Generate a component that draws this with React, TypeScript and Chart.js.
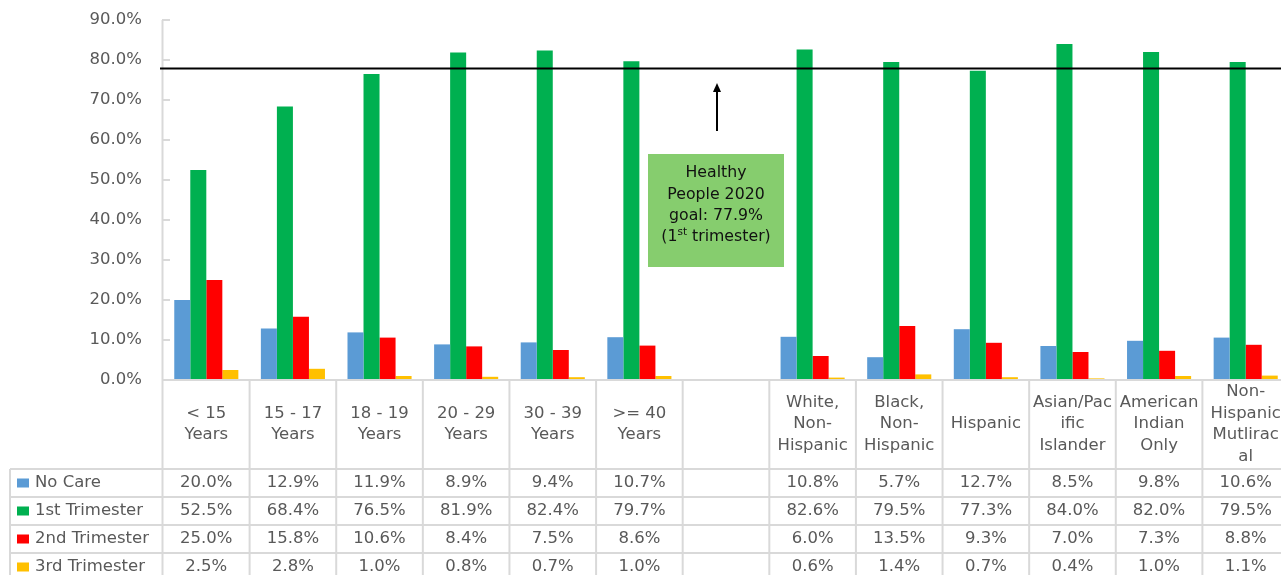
import React, { useEffect, useRef } from 'react';
import { Chart, registerables } from 'chart.js';

Chart.register(...registerables);

// ---------------- data ----------------
const categories: string[][] = [
  ['< 15', 'Years'],
  ['15 - 17', 'Years'],
  ['18 - 19', 'Years'],
  ['20 - 29', 'Years'],
  ['30 - 39', 'Years'],
  ['>= 40', 'Years'],
  [''],
  ['White,', 'Non-', 'Hispanic'],
  ['Black,', 'Non-', 'Hispanic'],
  ['Hispanic'],
  ['Asian/Pac', 'ific', 'Islander'],
  ['American', 'Indian', 'Only'],
  ['Non-', 'Hispanic', 'Mutlirac', 'al'],
];
const noCare = [20.0, 12.9, 11.9, 8.9, 9.4, 10.7, null, 10.8, 5.7, 12.7, 8.5, 9.8, 10.6];
const firstTrimester = [52.5, 68.4, 76.5, 81.9, 82.4, 79.7, null, 82.6, 79.5, 77.3, 84.0, 82.0, 79.5];
const secondTrimester = [25.0, 15.8, 10.6, 8.4, 7.5, 8.6, null, 6.0, 13.5, 9.3, 7.0, 7.3, 8.8];
const thirdTrimester = [2.5, 2.8, 1.0, 0.8, 0.7, 1.0, null, 0.6, 1.4, 0.7, 0.4, 1.0, 1.1];
const seriesNames = ['No Care', '1st Trimester', '2nd Trimester', '3rd Trimester'];
const seriesColors = ['#5B9BD5', '#00B050', '#FF0000', '#FFC000'];
const yTickValues = [0, 10, 20, 30, 40, 50, 60, 70, 80, 90];
const goalValue = 77.9;
const goalLines = ['Healthy', 'People 2020', 'goal: 77.9%'];

// ---------------- style ----------------
const FONT_FAMILY = '"DejaVu Sans", Verdana, sans-serif';
const TEXT_GRAY = '#595959';
const GRID_GRAY = '#d9d9d9';
const SX = 1.1;

function stretchText(
  ctx: CanvasRenderingContext2D,
  text: string,
  x: number,
  y: number,
  align: CanvasTextAlign,
  sx = SX
) {
  ctx.save();
  ctx.translate(x, y);
  ctx.scale(sx, 1);
  ctx.textAlign = align;
  ctx.textBaseline = 'middle';
  ctx.fillText(text, 0, 0);
  ctx.restore();
}

const customDraw = {
  id: 'customDraw',
  afterDatasetsDraw(chart: any) {
    const ctx: CanvasRenderingContext2D = chart.ctx;
    const xs = chart.scales.x;
    const ys = chart.scales.y;
    const area = chart.chartArea;
    const n = categories.length;
    const catW = (area.right - area.left) / n;

    ctx.save();

    // ---- y axis line, inside tick marks, labels ----
    ctx.strokeStyle = GRID_GRAY;
    ctx.lineWidth = 2;
    ctx.beginPath();
    ctx.moveTo(area.left - 0.5, area.top);
    ctx.lineTo(area.left - 0.5, 575);
    ctx.stroke();
    ctx.font = `15px ${FONT_FAMILY}`;
    ctx.fillStyle = TEXT_GRAY;
    yTickValues.forEach((v) => {
      const py = ys.getPixelForValue(v);
      ctx.beginPath();
      ctx.moveTo(area.left - 1, py);
      ctx.lineTo(area.left + 7, py);
      ctx.stroke();
      stretchText(ctx, v.toFixed(1) + '%', area.left - 21, py, 'right');
    });

    // ---- x axis line (table top) ----
    ctx.beginPath();
    ctx.moveTo(area.left - 1, area.bottom);
    ctx.lineTo(area.right, area.bottom);
    ctx.stroke();

    // ---- data table ----
    const headerBottom = 469;
    const rowH = 28;
    const rowTops = [0, 1, 2, 3, 4].map((i) => headerBottom + i * rowH);
    const tableLeft = 10;

    // horizontal lines
    rowTops.forEach((ty) => {
      ctx.beginPath();
      ctx.moveTo(tableLeft, ty);
      ctx.lineTo(area.right, ty);
      ctx.stroke();
    });
    // left border
    ctx.beginPath();
    ctx.moveTo(tableLeft, headerBottom);
    ctx.lineTo(tableLeft, 580);
    ctx.stroke();
    // vertical lines at category boundaries
    for (let i = 1; i <= n; i++) {
      const bx = xs.getPixelForValue(i - 1) + catW / 2;
      ctx.beginPath();
      ctx.moveTo(bx, area.bottom);
      ctx.lineTo(bx, 580);
      ctx.stroke();
    }

    // header labels
    ctx.fillStyle = TEXT_GRAY;
    ctx.font = `15px ${FONT_FAMILY}`;
    const headerMid = (area.bottom + headerBottom) / 2;
    const lh = 21.5;
    categories.forEach((lines, i) => {
      const cx = xs.getPixelForValue(i);
      const start = headerMid - ((lines.length - 1) * lh) / 2;
      lines.forEach((t, j) => stretchText(ctx, t, cx, start + j * lh, 'center'));
    });

    // rows
    const series = [noCare, firstTrimester, secondTrimester, thirdTrimester];
    series.forEach((vals, r) => {
      const cy = rowTops[r] + rowH / 2;
      ctx.fillStyle = seriesColors[r];
      ctx.fillRect(17, cy - 4.5, 12, 9);
      ctx.fillStyle = TEXT_GRAY;
      stretchText(ctx, seriesNames[r], 35, cy, 'left');
      vals.forEach((v, i) => {
        if (v === null || v === undefined) return;
        stretchText(ctx, (v as number).toFixed(1) + '%', xs.getPixelForValue(i), cy, 'center');
      });
    });

    // ---- goal line ----
    const gy = ys.getPixelForValue(goalValue);
    ctx.strokeStyle = '#000000';
    ctx.lineWidth = 2;
    ctx.beginPath();
    ctx.moveTo(area.left - 3, gy);
    ctx.lineTo(area.right, gy);
    ctx.stroke();

    // ---- arrow ----
    const ax = 717;
    ctx.beginPath();
    ctx.moveTo(ax, 131);
    ctx.lineTo(ax, 90);
    ctx.stroke();
    ctx.fillStyle = '#000000';
    ctx.beginPath();
    ctx.moveTo(ax, 83);
    ctx.lineTo(ax - 4, 92);
    ctx.lineTo(ax + 4, 92);
    ctx.closePath();
    ctx.fill();

    // ---- annotation box ----
    const bx0 = 648;
    const by0 = 154;
    const bw = 136;
    const bh = 113;
    ctx.fillStyle = '#86CD6E';
    ctx.fillRect(bx0, by0, bw, bh);
    const bcx = bx0 + bw / 2;
    ctx.fillStyle = '#111111';
    ctx.font = `15px ${FONT_FAMILY}`;
    const bsx = 1.05;
    const lineYs = [173.5, 195, 216, 237];
    goalLines.forEach((t, i) => stretchText(ctx, t, bcx, lineYs[i], 'center', bsx));
    // last line with superscript
    const p1 = '(1';
    const sup = 'st';
    const p2 = ' trimester)';
    ctx.font = `15px ${FONT_FAMILY}`;
    const w1 = ctx.measureText(p1).width * bsx;
    const w3 = ctx.measureText(p2).width * bsx;
    ctx.font = `10px ${FONT_FAMILY}`;
    const w2 = ctx.measureText(sup).width * bsx;
    let tx = bcx - (w1 + w2 + w3) / 2;
    const ly = lineYs[3];
    ctx.font = `15px ${FONT_FAMILY}`;
    stretchText(ctx, p1, tx, ly, 'left', bsx);
    tx += w1;
    ctx.font = `10px ${FONT_FAMILY}`;
    stretchText(ctx, sup, tx, ly - 5, 'left', bsx);
    tx += w2;
    ctx.font = `15px ${FONT_FAMILY}`;
    stretchText(ctx, p2, tx, ly, 'left', bsx);

    ctx.restore();
  },
};

export default function App() {
  const canvasRef = useRef<HTMLCanvasElement | null>(null);

  useEffect(() => {
    const canvas = canvasRef.current;
    if (!canvas) return;
    const series = [noCare, firstTrimester, secondTrimester, thirdTrimester];
    const chart = new Chart(canvas, {
      type: 'bar',
      data: {
        labels: categories.map((c) => c.join(' ')),
        datasets: series.map((vals, i) => ({
          label: seriesNames[i],
          data: vals as any,
          backgroundColor: seriesColors[i],
          borderWidth: 0,
          categoryPercentage: 0.74,
          barPercentage: 1,
        })),
      },
      options: {
        responsive: false,
        animation: false,
        devicePixelRatio: 1,
        layout: { padding: { left: 163, top: 20, right: 0, bottom: 195 } },
        plugins: {
          legend: { display: false },
          tooltip: { enabled: false },
        },
        scales: {
          x: { display: false, offset: true },
          y: { display: false, min: 0, max: 90 },
        },
      },
      plugins: [customDraw],
    });
    return () => chart.destroy();
  }, []);

  return (
    <div
      style={{
        position: 'fixed',
        left: 0,
        top: 0,
        width: 1281,
        height: 575,
        overflow: 'hidden',
        background: '#ffffff',
      }}
    >
      <canvas ref={canvasRef} width={1289} height={575} style={{ display: 'block' }} />
    </div>
  );
}
